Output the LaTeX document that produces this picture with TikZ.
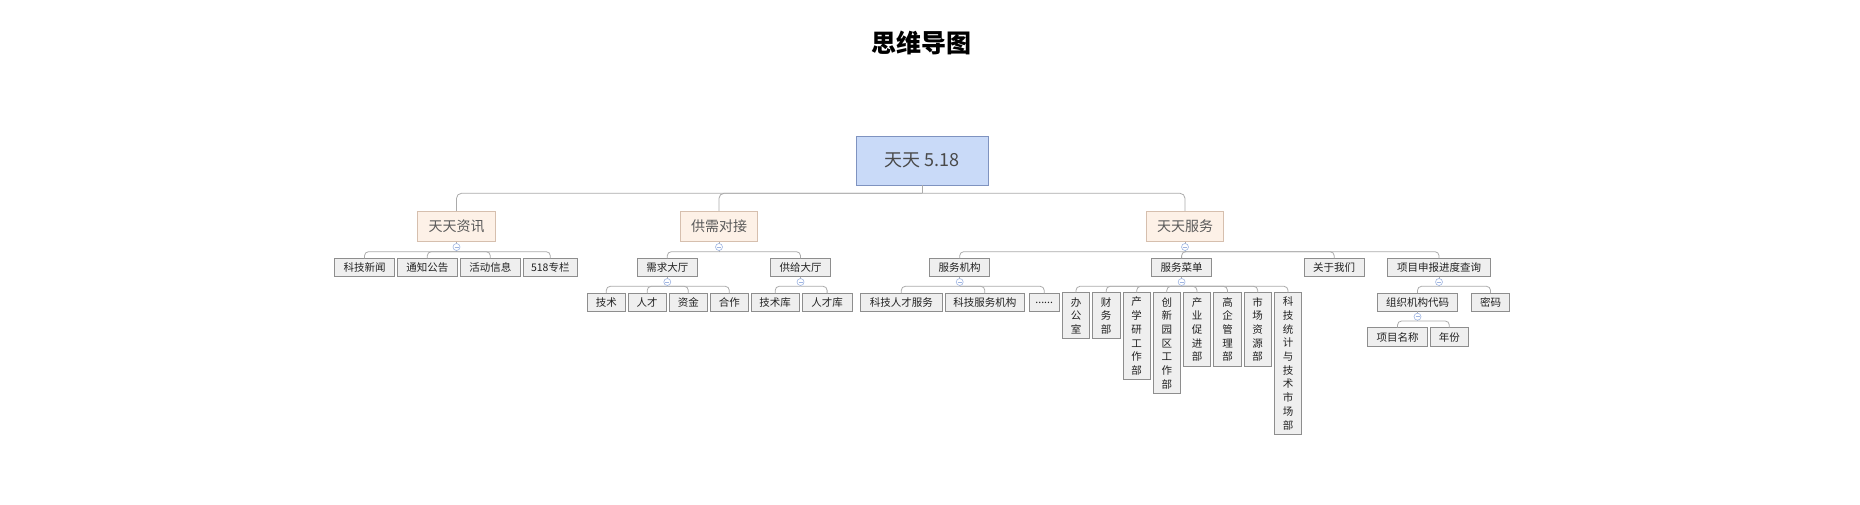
\documentclass[tikz,border=0pt]{standalone}
\usepackage{fontspec}
\newfontfamily\cjk{Noto Sans CJK SC}
\definecolor{rootf}{HTML}{C9DAF8}
\definecolor{rootb}{HTML}{7F93C0}
\definecolor{lonef}{HTML}{FDF1E7}
\definecolor{loneb}{HTML}{D6BFAE}
\definecolor{leaff}{HTML}{EFEFEF}
\definecolor{leafb}{HTML}{8E8E8E}
\definecolor{connc}{HTML}{ABABAB}
\definecolor{collc}{HTML}{9FB5E2}
\definecolor{txtdark}{HTML}{222222}
\definecolor{txtmid}{HTML}{5A5A5A}
\definecolor{txtroot}{HTML}{4A4A4A}
\begin{document}
\begin{tikzpicture}[x=1pt,y=-1pt,
  base/.style={rectangle,inner sep=0pt,outer sep=0pt,line width=0.8pt},
  rootbox/.style={base,draw=rootb,fill=rootf,text=txtroot,font=\cjk\fontsize{18}{20}\selectfont,minimum width=132.3pt,minimum height=49.3pt},
  lonebox/.style={base,draw=loneb,fill=lonef,text=txtmid,font=\cjk\fontsize{14}{16}\selectfont,minimum height=30.7pt},
  leafbox/.style={base,draw=leafb,fill=leaff,text=txtdark,font=\cjk\fontsize{10.5}{12}\selectfont,minimum height=18.3pt},
  vbox/.style={base,draw=leafb,fill=leaff,text=txtdark,font=\cjk\fontsize{10.5}{13.7}\selectfont,align=center,anchor=north,minimum width=27.4pt},
  conn/.style={draw=connc,line width=0.8pt,rounded corners=4pt},
  rconn/.style={draw=connc,line width=0.8pt,rounded corners=5pt},
  coll/.style={circle,draw=collc,fill=white,line width=0.6pt,minimum size=7pt,inner sep=0pt,
    path picture={\draw[collc,line width=0.6pt] ([xshift=-2pt]path picture bounding box.center) -- ([xshift=2pt]path picture bounding box.center);}}
]
\useasboundingbox (0,0) rectangle (1860,504);

% title
\node[font=\cjk\bfseries\fontsize{25}{28}\selectfont,text=black] (title) at (921,42.5) {思维导图};

% root
\node[rootbox] (root) at (922.2,160.7) {天天 5.18};

% level 1
\node[lonebox,minimum width=78.4pt] (zx) at (456.5,226.3) {天天资讯};
\node[lonebox,minimum width=77.4pt] (gx) at (719,226.3) {供需对接};
\node[lonebox,minimum width=77.4pt] (fw) at (1185,226.3) {天天服务};

% level 2
\node[leafbox,minimum width=60.4pt] (a1) at (364.5,267.4) {科技新闻};
\node[leafbox,minimum width=60pt] (a2) at (427.3,267.4) {通知公告};
\node[leafbox,minimum width=60pt] (a3) at (490.3,267.4) {活动信息};
\node[leafbox,minimum width=54.7pt] (a4) at (550.3,267.4) {518专栏};
\node[leafbox,minimum width=60pt] (b1) at (667.3,267.4) {需求大厅};
\node[leafbox,minimum width=59.6pt] (b2) at (800.5,267.4) {供给大厅};
\node[leafbox,minimum width=60pt] (c1) at (959.7,267.4) {服务机构};
\node[leafbox,minimum width=60.2pt] (c2) at (1181.6,267.4) {服务菜单};
\node[leafbox,minimum width=60.3pt] (c3) at (1334.2,267.4) {关于我们};
\node[leafbox,minimum width=103.4pt] (c4) at (1439,267.4) {项目申报进度查询};

% level 3
\node[leafbox,minimum width=38pt] (b11) at (606.3,302.5) {技术};
\node[leafbox,minimum width=38.3pt] (b12) at (647.2,302.5) {人才};
\node[leafbox,minimum width=38pt] (b13) at (688.3,302.5) {资金};
\node[leafbox,minimum width=38pt] (b14) at (729.3,302.5) {合作};
\node[leafbox,minimum width=48.5pt] (b21) at (775.2,302.5) {技术库};
\node[leafbox,minimum width=49.7pt] (b22) at (827.1,302.5) {人才库};
\node[leafbox,minimum width=81.3pt] (c11) at (901.3,302.5) {科技人才服务};
\node[leafbox,minimum width=79.7pt] (c12) at (984.8,302.5) {科技服务机构};
\node[leafbox,minimum width=30.3pt] (c13) at (1044.2,302.5) {......};
\node[leafbox,minimum width=80.4pt] (c41) at (1417.5,302.2) {组织机构代码};
\node[leafbox,minimum width=38.4pt] (c42) at (1490.5,302.2) {密码};

% vertical boxes
\node[vbox,minimum height=46pt] (d1) at (1076,292.7) {办\\公\\室};
\node[vbox,minimum height=46pt] (d2) at (1106.2,292.7) {财\\务\\部};
\node[vbox,minimum height=87pt] (d3) at (1136.7,292.7) {产\\学\\研\\工\\作\\部};
\node[vbox,minimum height=101pt] (d4) at (1166.8,292.7) {创\\新\\园\\区\\工\\作\\部};
\node[vbox,minimum height=73.6pt] (d5) at (1197,292.7) {产\\业\\促\\进\\部};
\node[vbox,minimum height=73.6pt] (d6) at (1227.5,292.7) {高\\企\\管\\理\\部};
\node[vbox,minimum height=73.6pt] (d7) at (1257.7,292.7) {市\\场\\资\\源\\部};
\node[vbox,minimum height=141.3pt] (d8) at (1288,292.7) {科\\技\\统\\计\\与\\技\\术\\市\\场\\部};

% level 4
\node[leafbox,minimum width=60.4pt,minimum height=19pt] (e1) at (1397.5,337.2) {项目名称};
\node[leafbox,minimum width=38pt,minimum height=19pt] (e2) at (1449.3,337.2) {年份};

% junction coordinates
\coordinate (j0) at (922.2,193.3);
\coordinate (jzx) at (456.5,251.7);
\coordinate (jgx) at (719,251.7);
\coordinate (jfw) at (1185,251.7);
\coordinate (jb1) at (667.3,286.3);
\coordinate (jb2) at (800.5,286.3);
\coordinate (jc1) at (959.7,286.3);
\coordinate (jc2) at (1181.6,286.3);
\coordinate (jc4) at (1439,286.3);
\coordinate (jc41) at (1417.5,321);

% connectors
\draw[rconn] (root.south) -- (j0);
\foreach \c in {zx,gx,fw} \draw[rconn] (j0) -| (\c.north);

\draw[conn] (zx.south) -- (jzx);
\foreach \c in {a1,a2,a3,a4} \draw[conn] (jzx) -| (\c.north);
\draw[conn] (gx.south) -- (jgx);
\foreach \c in {b1,b2} \draw[conn] (jgx) -| (\c.north);
\draw[conn] (fw.south) -- (jfw);
\foreach \c in {c1,c2,c3,c4} \draw[conn] (jfw) -| (\c.north);

\draw[conn] (b1.south) -- (jb1);
\foreach \c in {b11,b12,b13,b14} \draw[conn] (jb1) -| (\c.north);
\draw[conn] (b2.south) -- (jb2);
\foreach \c in {b21,b22} \draw[conn] (jb2) -| (\c.north);
\draw[conn] (c1.south) -- (jc1);
\foreach \c in {c11,c12,c13} \draw[conn] (jc1) -| (\c.north);
\draw[conn] (c2.south) -- (jc2);
\foreach \c in {d1,d2,d3,d4,d5,d6,d7,d8} \draw[conn] (jc2) -| (\c.north);
\draw[conn] (c4.south) -- (jc4);
\foreach \c in {c41,c42} \draw[conn] (jc4) -| (\c.north);
\draw[conn] (c41.south) -- (jc41);
\foreach \c in {e1,e2} \draw[conn] (jc41) -| (\c.north);

% collapse markers
\node[coll] (k1) at (456.5,247) {};
\node[coll] (k2) at (719,247) {};
\node[coll] (k3) at (1185,247) {};
\node[coll] (k4) at (667.3,282) {};
\node[coll] (k5) at (800.5,282) {};
\node[coll] (k6) at (959.7,282) {};
\node[coll] (k7) at (1181.6,282) {};
\node[coll] (k8) at (1439,282) {};
\node[coll] (k9) at (1417.5,316.7) {};
\end{tikzpicture}
\end{document}
